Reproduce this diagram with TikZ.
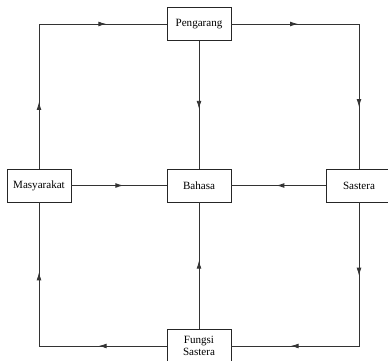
\documentclass[tikz,border=0pt]{standalone}
\usepackage{fontspec}
\setmainfont{Liberation Serif}
\usetikzlibrary{arrows.meta,decorations.markings}
\begin{document}
\begin{tikzpicture}[x=0.75pt,y=-0.75pt,
  box/.style={draw=black!85,line width=0.6pt,minimum width=48pt,minimum height=24.75pt,inner sep=0pt,font=\fontsize{8.3}{9}\selectfont,align=center},
  conn/.style={draw=black!80,line width=0.6pt},
  mk/.style={postaction={decorate,decoration={markings,mark=at position #1 with {\arrow{Latex[length=6pt,width=3.6pt]}}}}},
  mk2/.style 2 args={postaction={decorate,decoration={markings,
     mark=at position #1 with {\arrow{Latex[length=6pt,width=3.6pt]}},
     mark=at position #2 with {\arrow{Latex[length=6pt,width=3.6pt]}}}}}]
\useasboundingbox (0,0) rectangle (388,360);
\node[box] (peng) at (199,24) {Pengarang};
\node[box] (mas) at (39,185.5) {Masyarakat};
\node[box] (bah) at (199,185.5) {Bahasa};
\node[box,minimum width=49.5pt] (sas) at (359,185.5) {Sastera};
\node[box,minimum height=25.5pt] (fs) at (199,346) {Fungsi\\Sastera};
\draw[conn,mk2={50pt}{159pt}] (mas.north) |- (peng.west);
\draw[conn,mk2={50pt}{158pt}] (peng.east) -| (sas.north);
\draw[conn,mk={51pt}] (peng.south) -- (bah.north);
\draw[conn,mk={39pt}] (mas.east) -- (bah.west);
\draw[conn,mk={37pt}] (sas.west) -- (bah.east);
\draw[conn,mk2={55pt}{159pt}] (sas.south) |- (fs.east);
\draw[conn,mk2={51pt}{151pt}] (fs.west) -| (mas.south);
\draw[conn,mk={51pt}] (fs.north) -- (bah.south);
\end{tikzpicture}
\end{document}
